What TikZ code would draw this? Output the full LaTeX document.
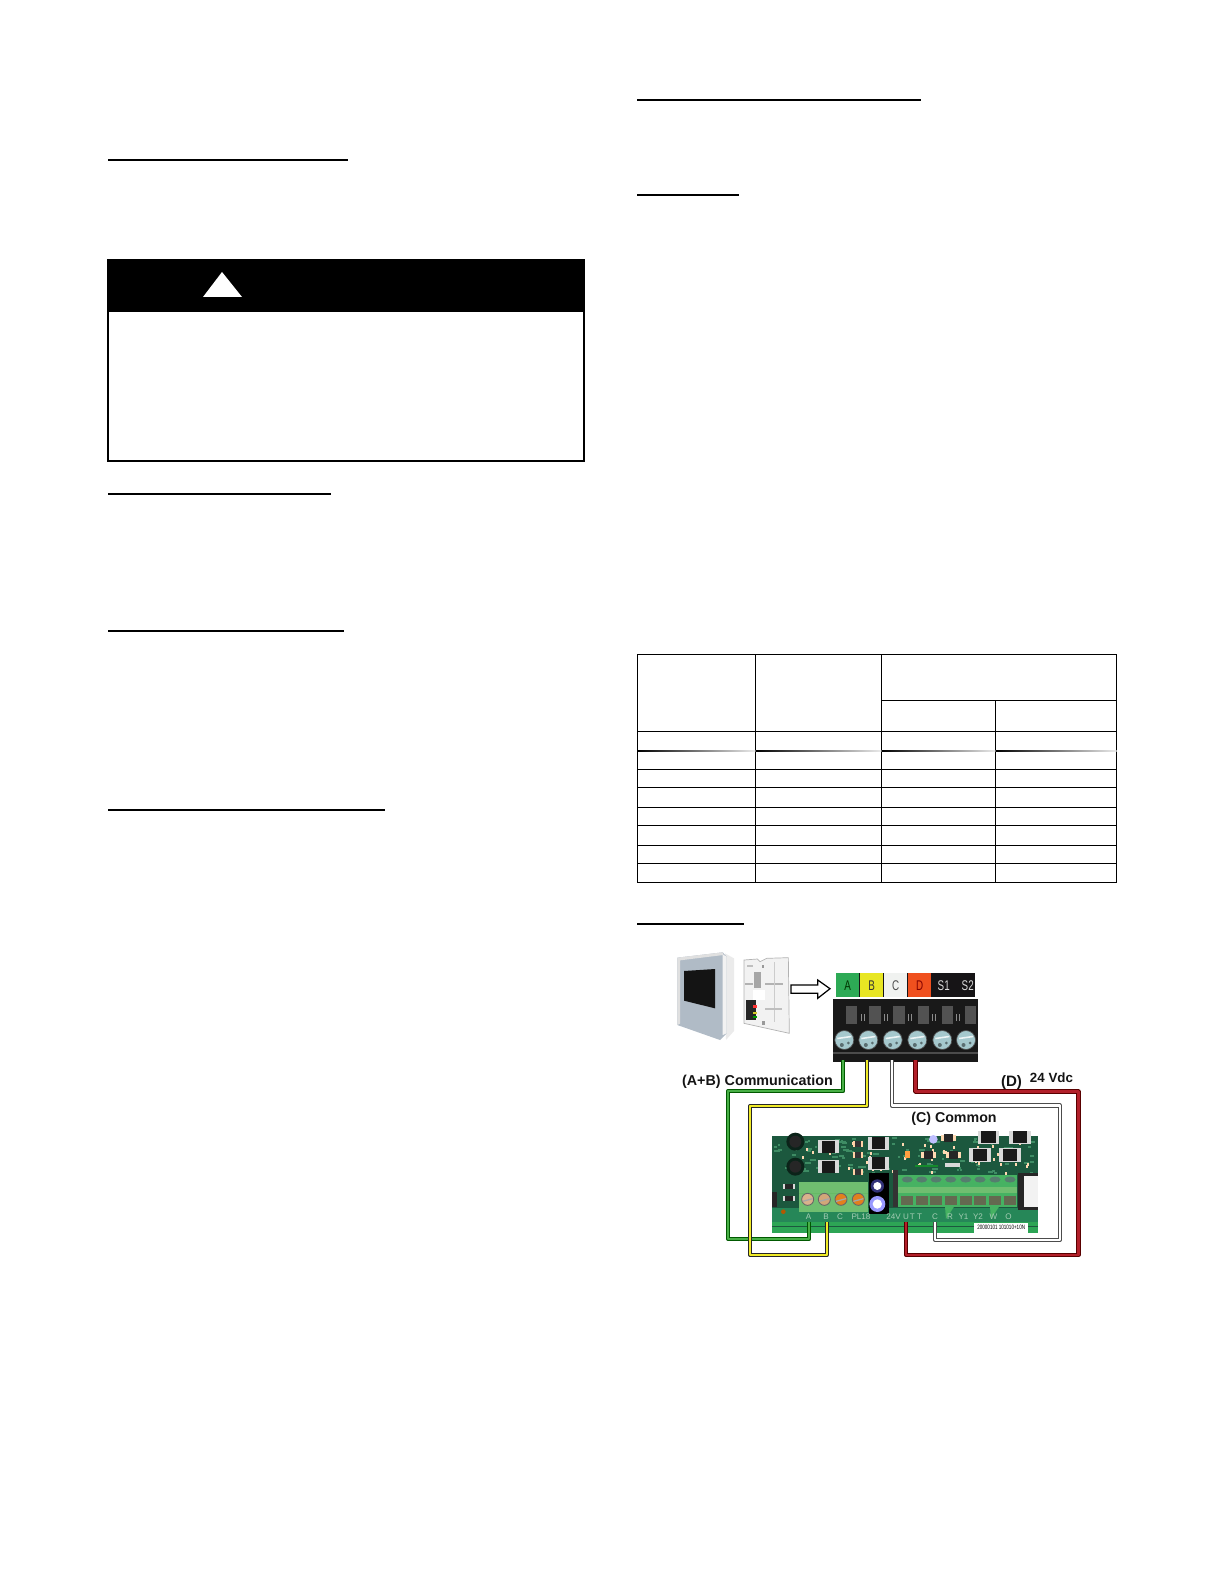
\documentclass[tikz,border=0pt]{standalone}
\usepackage{graphicx}
\usepackage{fontspec}
\setmainfont{Liberation Sans}
\usetikzlibrary{positioning}
\definecolor{termgreen}{RGB}{45,170,85}
\definecolor{termyellow}{RGB}{232,230,35}
\definecolor{termwhite}{RGB}{240,242,240}
\definecolor{termred}{RGB}{240,80,30}
\definecolor{termblack}{RGB}{22,20,22}
\definecolor{screwblue}{RGB}{165,200,205}
\definecolor{pcbdark}{RGB}{28,88,62}
\definecolor{pcbmid}{RGB}{38,135,88}
\definecolor{pcbband}{RGB}{45,165,85}
\definecolor{pcbtrace}{RGB}{62,140,100}
\definecolor{blocklight}{RGB}{112,190,112}
\definecolor{blockgreen}{RGB}{70,178,98}
\definecolor{plugscrew}{RGB}{85,125,110}
\definecolor{plugsquare}{RGB}{100,105,80}
\definecolor{silk}{RGB}{165,205,180}
\definecolor{caseblue}{RGB}{176,187,198}
\definecolor{wiregreen}{RGB}{72,175,70}
\definecolor{wireyellow}{RGB}{240,235,40}
\definecolor{wirered}{RGB}{178,32,42}
\newcommand\narrowtxt[1]{\scalebox{.7}[1]{#1}}

\begin{document}
\begin{tikzpicture}[x=0.02cm,y=-0.02cm]
 \useasboundingbox (0,0) rectangle (1224,1584);
 \tikzset{headrule/.style={line width=1.3pt}}
 \tikzset{tablerule/.style={line width=.75pt}}
 \tikzset{wire/.style={line width=.55pt,double distance=1.2pt,line join=round}}
 \tikzset{callout/.style={inner sep=0pt,text=black!92}}
 \tikzset{cell/.style={minimum width=.466cm,minimum height=.48cm,inner sep=0pt,font=\fontsize{8}{8}\selectfont}}
 \tikzset{screw/.style={circle,fill=screwblue,draw=black!70,minimum size=.38cm,inner sep=0pt}}
 \tikzset{silkmark/.style={text=silk,inner sep=1pt,font=\fontsize{4.6}{5}\selectfont}}

 % page rules
 \foreach \xa/\xb/\ya in {108/348/160,108/331/494,108/344/631,108/385/810,637/921/100,637/739/195,637/744/924}
   \draw[headrule] (\xa,\ya) -- (\xb,\ya);

 % warning box
 \draw[line width=1.15pt] (108,260) rectangle (584,461);
 \fill (107.5,259) rectangle (585,312);
 \fill[white] (222,272) -- (242,297) -- (203,297) -- cycle;

 % table
 \draw[tablerule] (637.5,654.5) rectangle (1116.5,882.5);
 \foreach \xa in {755.5,881.5}
   \draw[tablerule] (\xa,654.5) -- (\xa,882.5);
 \draw[tablerule] (995.5,700.5) -- (995.5,882.5);
 \draw[tablerule] (881.5,700.5) -- (1116.5,700.5);
 \foreach \ya in {731.5,769.5,787.5,807.5,825.5,845.5,863.5}
   \draw[tablerule] (637.5,\ya) -- (1116.5,\ya);
 \foreach \xa/\xb in {637.5/755.5,755.5/881.5,881.5/995.5,995.5/1116.5}
   \shade[left color=black,right color=black!8] (\xa,750) rectangle (\xb,751);

 % thermostat
 \begin{scope}[shift={(670,945)},scale=1/3]
  \fill[black!8] (165,25) -- (192,40) -- (192,258) -- (168,285) -- cycle;
  \fill[caseblue] (22,38) -- (158,22) -- (170,35) -- (170,265) -- (150,285) -- (22,240) -- cycle;
  \fill[black!12] (22,38) -- (158,22) -- (160,30) -- (30,46) -- (30,236) -- (22,240) -- cycle;
  \fill[black!5] (158,28) -- (170,35) -- (170,265) -- (158,270) -- cycle;
  \fill[black!92] (42,78) -- (135,72) -- (135,190) -- (42,167) -- cycle;
  \draw[black!30,fill=black!5,line width=.4pt] (222,45) -- (262,42) -- (270,50) -- (290,40) -- (355,38) -- (358,265) -- (222,235) -- cycle;
  \fill[black!35] (252,80) rectangle (272,128);
  \fill[black!30] (225,113) rectangle (250,119);
  \fill[black!30] (285,113) rectangle (340,119);
  \fill[black!20] (312,50) rectangle (316,230);
  \fill[white] (250,135) rectangle (285,165);
  \fill[black!25] (285,190) rectangle (335,196);
  \fill[black!25] (232,60) rectangle (250,66);
  \fill[black!40] (275,60) rectangle (282,68);
  \fill[black!40] (275,228) rectangle (285,240);
  \fill[black!85] (228,165) rectangle (258,225);
  \fill[red!80] (250,180) rectangle (260,190);
  \fill[yellow!80!black] (250,200) rectangle (260,208);
  \fill[green!60!black] (250,212) rectangle (260,220);
 \end{scope}
 \draw[line width=.7pt,fill=white] (791,985) -- (817.7,985) -- (817.7,980) -- (830,988.7)
   -- (817.7,998.3) -- (817.7,993.3) -- (791,993.3) -- cycle;

 % terminal strip
 \fill[termblack] (836,973.3) rectangle (975,997.3);
 \node[cell,fill=termgreen,text=green!20!black] (lblA) at (847.7,985.3) {\narrowtxt{A}};
 \node[cell,fill=termyellow,text=black!80,right=0pt of lblA] (lblB) {\narrowtxt{B}};
 \node[cell,fill=termwhite,text=black!70,right=0pt of lblB] (lblC) {\narrowtxt{C}};
 \node[cell,fill=termred,text=red!50!black,right=0pt of lblC] (lblD) {\narrowtxt{D}};
 \node[cell,text=white!85!black,right=0pt of lblD] (lblS1) {\narrowtxt{S1}};
 \node[cell,text=white!85!black,right=0pt of lblS1] (lblS2) {\narrowtxt{S2}};
 \fill[black!90] (833,999) rectangle (978,1062);
 \foreach \x in {851.7,875,899,923.3,947.3}{
   \fill[black!68] (\x-5.7,1006) rectangle (\x+5.7,1024);
   \fill[black!45] (\x+9,1014) rectangle (\x+10,1021);
   \fill[black!45] (\x+12,1014) rectangle (\x+13,1021);
 }
 \fill[black!68] (965,1006) rectangle (976,1024);
 \fill[black!70] (833,1052) rectangle (978,1054);
 \foreach \n/\x in {A/844.3,B/868.3,C/892.7,D/917.3,E/942.3,F/966}{
   \node[screw] (scr\n) at (\x,1040) {};
   \draw[white!80!screwblue,line width=.9pt] ([xshift=-.14cm,yshift=.03cm]scr\n.center) -- ([xshift=.14cm,yshift=.07cm]scr\n.center);
   \fill[black!45!screwblue] ([xshift=-.05cm,yshift=-.1cm]scr\n.center) circle (2);
   \fill[black!45!screwblue] ([xshift=.08cm,yshift=-.06cm]scr\n.center) circle (1.5);
 }

 % controller board
 \fill[pcbdark] (772.3,1135.7) rectangle (1038.3,1232.7);
 \fill[pcbmid] (772.3,1208) rectangle (1038.3,1232.7);
 \fill[pcbband] (772.3,1221.7) rectangle (1038.3,1232.7);
 \fill[pcbdark] (772.3,1226.3) rectangle (1038.3,1227.3);
 % small parts and traces of the board
 \pgfmathsetseed{7}
 \foreach \i in {1,...,110}{
   \pgfmathsetmacro\xr{random(774,1030)}
   \pgfmathsetmacro\yr{random(1137,1172)}
   \pgfmathsetmacro\wr{random(2,6)}
   \fill[pcbtrace] (\xr,\yr) rectangle (\xr+\wr,\yr+1.5);
 }
 \foreach \i in {1,...,45}{
   \pgfmathsetmacro\xr{random(774,1030)}
   \pgfmathsetmacro\yr{random(1137,1172)}
   \fill[white!70!orange] (\xr,\yr) rectangle (\xr+2,\yr+3);
 }
 \begin{scope}[shift={(770,1130)},scale=1/3]
  \foreach \y in {35,110}{
    \fill[black!60!pcbdark] (76,\y) circle (27);
    \fill[black!85] (76,\y) circle (18);
  }
  \foreach \x/\y in {175/50,175/110,325/40,325/100}{
    \fill[black!15] (\x-32,\y-20) rectangle (\x+32,\y+20);
    \fill[black!90] (\x-20,\y-18) rectangle (\x+20,\y+18);
  }
  \foreach \y in {40,75,125}{
    \fill[orange!35!white] (250,\y-8) rectangle (280,\y+10);
    \fill[black!80] (256,\y-8) rectangle (274,\y+10);
  }
  \foreach \y in {170,205}{
    \fill[black!15] (38,\y-8) rectangle (75,\y+8);
    \fill[black!85] (45,\y-7) rectangle (68,\y+7);
  }
  \fill[black!85] (5,185) rectangle (20,230);
  \fill[orange!70!black] (40,245) circle (7);
  % left plug
  \fill[blocklight] (88,155) rectangle (295,245);
  \fill[green!55!black!60!white] (88,188) rectangle (295,191);
  \foreach \x/\c in {113/brown!60!white,163/brown!70!white,213/orange!55!brown,265/orange!55!brown}{
    \fill[\c,draw=black!60,line width=.5pt] (\x,208) circle (18);
    \fill[black!35] (\x-15,212) -- (\x+15,204) -- (\x+15,208) -- (\x-15,216) -- cycle;
  }
  % capacitors
  \fill[black] (298,130) rectangle (358,252);
  \fill[blue!35!black!80] (322,168) circle (20);
  \fill[white] (322,168) circle (12);
  \fill[blue!40!white] (322,222) circle (24);
  \fill[white] (322,222) circle (14);
 \end{scope}
 \begin{scope}[shift={(905,1130)},scale=1/3]
  \foreach \x/\y in {225/75,315/75,250/22,345/22}{
    \fill[black!15] (\x-32,\y-20) rectangle (\x+32,\y+20);
    \fill[black!90] (\x-22,\y-18) rectangle (\x+22,\y+18);
  }
  \foreach \x/\y in {70/75,145/75,130/25}{
    \fill[white!70!orange] (\x-22,\y-9) rectangle (\x+22,\y+9);
    \fill[black!85] (\x-14,\y-12) rectangle (\x+14,\y+12);
  }
  \fill[white!75!blue] (85,28) circle (13);
  \fill[orange!75!white] (0,62) rectangle (14,84);
  \fill[pcbdark!70!green] (30,105) rectangle (100,112);
  \fill[white!85!black] (120,100) rectangle (165,110);
  % connector at the right
  \fill[black!85] (340,128) rectangle (400,240);
  \fill[black!5] (358,138) rectangle (400,232);
 \end{scope}
 % big plug with its screws
 \fill[blockgreen] (898,1175) rectangle (1016.7,1206.7);
 \fill[blocklight] (898,1187) rectangle (1016.7,1193);
 \fill[black!80] (893,1170) rectangle (898,1207);
 \foreach \x in {907.3,921.7,936,950.7,965.7,980,995,1010}{
   \fill[plugscrew] (\x,1179.5) ellipse (5.5 and 3);
   \fill[plugsquare] (\x-6,1196) rectangle (\x+6,1204.5);
 }
 \foreach \x in {945,990}
   \fill[blockgreen] (\x,1206.7) -- (\x+9,1206.7) -- (\x+1,1219) -- cycle;
 \node[silkmark] (silkA) at (808.5,1216.7) {A};
 \node[silkmark] (silkB) at (826,1217) {B};
 \node[silkmark] (silkK) at (840,1217) {C};
 \node[silkmark] (silkPL) at (861,1217) {PL18};
 \node[silkmark] (silkV) at (893.5,1217) {24V};
 \node[silkmark] (silkU) at (906,1217) {U};
 \node[silkmark] (silkT) at (916,1217) {T T};
 \node[silkmark] (silkC) at (935,1216.7) {C};
 \node[silkmark] (silkR) at (950,1216.7) {R};
 \node[silkmark] (silkYa) at (963.5,1216.7) {Y1};
 \node[silkmark] (silkYb) at (978,1216.7) {Y2};
 \node[silkmark] (silkW) at (993.5,1216.7) {W};
 \node[silkmark] (silkO) at (1008.5,1216.7) {O};
 \node[fill=white,inner sep=0pt,minimum width=1.09cm,minimum height=.2cm] (sticker) at (1001.2,1227.5) {};
 \node[font=\fontsize{3.6}{4}\selectfont,inner sep=0pt] (serial) at (sticker) {\scalebox{.72}[1]{20000101 101010+10N}};

 % wires
 \coordinate (wireA) at (843.3,1060);
 \coordinate (wireB) at (867.3,1060);
 \coordinate (wireC) at (891.7,1060);
 \coordinate (wireD) at (915.5,1060);
 \draw[wire,draw=green!35!black,double=wiregreen] (wireA) |- (728,1091) |- (809.3,1239) -- (809.3,1222);
 \draw[wire,draw=black!85,double=wireyellow] (wireB) |- (750,1106) |- (826.7,1255) -- (826.7,1222);
 \draw[wire,draw=black!70,double=white] (wireC) |- (1060,1105.5) |- (935,1240) -- (silkC.south);
 \draw[wire,draw=red!35!black,double=wirered] (wireD) |- (1078.5,1091.5) |- (906,1255) -- (silkU.south);

 \node[callout,font=\bfseries\fontsize{8.15}{10}\selectfont] (commlabel) at (757.5,1081.5) {(A+B) Communication};
 \node[callout,font=\bfseries\fontsize{8.1}{10}\selectfont] (commonlabel) at (954,1118.7) {(C) Common};
 \node[callout,font=\bfseries\fontsize{8.6}{10}\selectfont] (dlabel) at (1011.5,1082.5) {(D)};
 \node[callout,font=\bfseries\fontsize{7.6}{10}\selectfont] (vdclabel) at (1051.5,1078) {24 Vdc};
\end{tikzpicture}
\end{document}
